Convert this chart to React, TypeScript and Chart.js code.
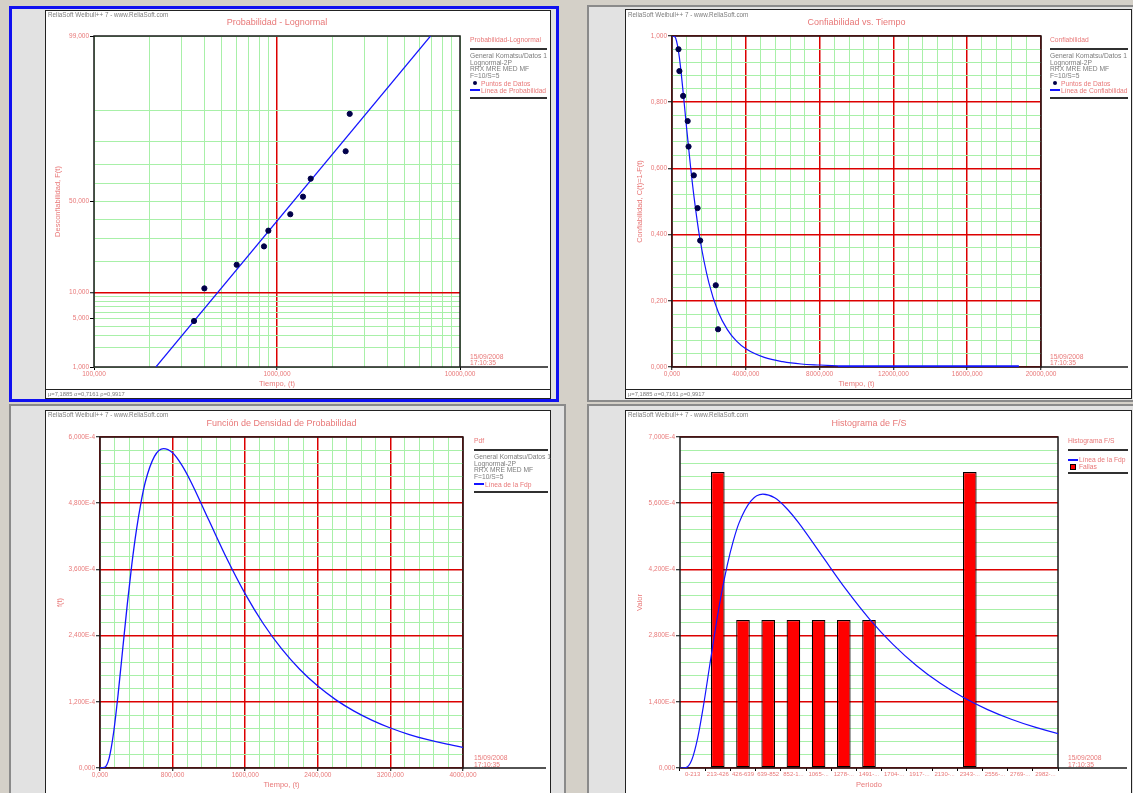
import React, { useEffect, useRef } from "react";
import { Chart, registerables, Scale } from "chart.js";

// ---------------- data ----------------
const failureTimes = [352, 401, 602, 849, 897, 1182, 1387, 1528, 2372, 2496];
const unreliabilityPoints = [0.0465, 0.111, 0.187, 0.264, 0.341, 0.429, 0.527, 0.626, 0.76, 0.891];
const reliabilityPoints = [0.96, 0.894, 0.819, 0.743, 0.666, 0.579, 0.48, 0.382, 0.247, 0.114];

const probLineTimes = [218, 6900];
const probLineValues = [0.01, 0.99];

const relCurveTimes = [0, 100, 200, 300, 400, 500, 600, 700, 800, 1000, 1200, 1500, 2000, 2500, 3000, 3500, 4000, 5000, 6000, 7000, 8000, 9000];
const relCurveValues = [1, 0.9996, 0.993, 0.971, 0.935, 0.887, 0.832, 0.775, 0.717, 0.608, 0.511, 0.392, 0.254, 0.167, 0.113, 0.078, 0.055, 0.029, 0.016, 0.009, 0.006, 0.0035];
const relTailTimes = [9000, 18800];
const relTailValues = [0.0012, 0.0012];

const pdfTimes = [0, 50, 100, 150, 200, 250, 300, 350, 400, 450, 500, 600, 700, 800, 900, 1000, 1200, 1400, 1600, 1800, 2000, 2200, 2400, 2600, 2800, 3000, 3200, 3400, 3600, 3800, 4000];
const pdfValues = [0, 0.01e-4, 0.175e-4, 0.643e-4, 1.343e-4, 2.152e-4, 2.956e-4, 3.682e-4, 4.298e-4, 4.798e-4, 5.189e-4, 5.649e-4, 5.79e-4, 5.714e-4, 5.494e-4, 5.194e-4, 4.49e-4, 3.788e-4, 3.156e-4, 2.615e-4, 2.163e-4, 1.79e-4, 1.485e-4, 1.235e-4, 1.031e-4, 0.863e-4, 0.725e-4, 0.611e-4, 0.517e-4, 0.44e-4, 0.375e-4];

const histBins = ["0-213", "213-426", "426-639", "639-852", "852-1...", "1065-...", "1278-...", "1491-...", "1704-...", "1917-...", "2130-...", "2343-...", "2556-...", "2769-...", "2982-..."];
const histValues = [0, 6.26e-4, 3.13e-4, 3.13e-4, 3.13e-4, 3.13e-4, 3.13e-4, 3.13e-4, 0, 0, 0, 6.26e-4, 0, 0, 0];
const histRangeMax = 3195;

// axis tick positions
const probGridValues = [0.01, 0.02, 0.03, 0.04, 0.05, 0.06, 0.07, 0.08, 0.09, 0.1, 0.2, 0.3, 0.4, 0.5, 0.6, 0.7, 0.8, 0.9, 0.99];
const probLabelValues = [0.01, 0.05, 0.1, 0.5, 0.99];
const logGridValues = [100, 200, 300, 400, 500, 600, 700, 800, 900, 1000, 2000, 3000, 4000, 5000, 6000, 7000, 8000, 9000, 10000];
const logLabelValues = [100, 1000, 10000];

// ---------------- style ----------------
const SALMON = "#e87878";
const GRAYTXT = "#7c7c7c";
const GREEN = "#a8f0a8";
const RED = "#dc0000";
const BLUE = "#1414ff";
const NAVY = "#00004a";
const BG = "#d4d0c8";
const PANEL = "#e2e2e2";
const FONT = "'Liberation Sans', Arial, sans-serif";
const SMALL = 6.7;

Chart.register(...registerables);
Chart.defaults.font.family = FONT;

// ---------------- probability (normal quantile) scale ----------------
function normInv(p: number): number {
  const a = [-39.69683028665376, 220.9460984245205, -275.9285104469687, 138.357751867269, -30.66479806614716, 2.506628277459239];
  const b = [-54.47609879822406, 161.5858368580409, -155.6989798598866, 66.80131188771972, -13.28068155288572];
  const c = [-0.007784894002430293, -0.3223964580411365, -2.400758277161838, -2.549732539343734, 4.374664141464968, 2.938163982698783];
  const d = [0.007784695709041462, 0.3224671290700398, 2.445134137142996, 3.754408661907416];
  const pl = 0.02425;
  if (p <= 0) return -8;
  if (p >= 1) return 8;
  if (p < pl) {
    const q = Math.sqrt(-2 * Math.log(p));
    return (((((c[0] * q + c[1]) * q + c[2]) * q + c[3]) * q + c[4]) * q + c[5]) / ((((d[0] * q + d[1]) * q + d[2]) * q + d[3]) * q + 1);
  }
  if (p <= 1 - pl) {
    const q = p - 0.5;
    const r = q * q;
    return ((((((a[0] * r + a[1]) * r + a[2]) * r + a[3]) * r + a[4]) * r + a[5]) * q) / (((((b[0] * r + b[1]) * r + b[2]) * r + b[3]) * r + b[4]) * r + 1);
  }
  const q = Math.sqrt(-2 * Math.log(1 - p));
  return -(((((c[0] * q + c[1]) * q + c[2]) * q + c[3]) * q + c[4]) * q + c[5]) / ((((d[0] * q + d[1]) * q + d[2]) * q + d[3]) * q + 1);
}
function normCdf(z: number): number {
  const t = 1 / (1 + 0.2316419 * Math.abs(z));
  const dd = 0.3989423 * Math.exp(-z * z / 2);
  const p = dd * t * (0.3193815 + t * (-0.3565638 + t * (1.781478 + t * (-1.821256 + t * 1.330274))));
  return z > 0 ? 1 - p : p;
}

class ProbitScale extends (Scale as any) {
  static id = "probit";
  static defaults = {};
  determineDataLimits() {
    this.min = this.options.min ?? 0.01;
    this.max = this.options.max ?? 0.99;
  }
  buildTicks() {
    return [];
  }
  getLabelForValue(v: number) {
    return String(v);
  }
  configure() {
    super.configure();
    this._zmin = normInv(this.min);
    this._zmax = normInv(this.max);
  }
  getPixelForValue(v: number) {
    return this.getPixelForDecimal((normInv(v) - this._zmin) / (this._zmax - this._zmin));
  }
  getValueForPixel(px: number) {
    return normCdf(this._zmin + this.getDecimalForPixel(px) * (this._zmax - this._zmin));
  }
}
Chart.register(ProbitScale as any);

// ---------------- helpers ----------------
const steps = (max: number, step: number) => Array.from({ length: Math.round(max / step) + 1 }, (_, i) => i * step);
const isMult = (v: number, m: number) => Math.abs(v / m - Math.round(v / m)) < 1e-6;
const fmt3 = (v: number) => v.toFixed(3).replace(".", ",");
const fmtE4 = (v: number) => (Math.abs(v) < 1e-12 ? "0,000" : fmt3(v * 1e4) + "E-4");

type Geo = { cx: number; cy: number; cw: number; ch: number; px0: number; py0: number; px1: number; py1: number };
const X_FIT = 31;
const GEO: Record<string, Geo> = {
  tl: { cx: 46, cy: 11, cw: 504, ch: 387, px0: 94, py0: 36, px1: 460, py1: 367 },
  tr: { cx: 626, cy: 10, cw: 505, ch: 388, px0: 672, py0: 36, px1: 1041, py1: 367 },
  bl: { cx: 46, cy: 411, cw: 504, ch: 389, px0: 100, py0: 437, px1: 463, py1: 768 },
  br: { cx: 626, cy: 411, cw: 505, ch: 389, px0: 680, py0: 437, px1: 1058, py1: 768 },
};

function baseOptions(g: Geo) {
  return {
    animation: false,
    responsive: false,
    events: [],
    layout: { padding: { top: g.py0 - g.cy, right: g.cx + g.cw - g.px1, bottom: g.cy + g.ch - g.py1 - X_FIT, left: 0 } },
    plugins: { legend: { display: false }, tooltip: { enabled: false }, title: { display: false } },
  };
}

function framePlugin(ext: number) {
  return {
    id: "frame",
    beforeDatasetsDraw(chart: any) {
      const { ctx, chartArea: a } = chart;
      ctx.save();
      ctx.strokeStyle = "#1a1a1a";
      ctx.lineWidth = 1.5;
      ctx.strokeRect(a.left, a.top, a.right - a.left, a.bottom - a.top);
      ctx.beginPath();
      ctx.moveTo(a.right, a.bottom);
      ctx.lineTo(a.right + ext, a.bottom);
      ctx.stroke();
      ctx.restore();
    },
  };
}

function gridAxis(o: {
  vals: number[];
  label: (v: number) => string;
  major: (v: number) => boolean;
  horizontal: boolean;
  fit: number;
  title: string;
  titlePad: number;
  extra?: any;
}) {
  return {
    ...(o.extra || {}),
    afterFit: (s: any) => {
      if (o.horizontal) s.height = o.fit;
      else s.width = o.fit;
    },
    afterBuildTicks: (s: any) => {
      s.ticks = o.vals.map((v) => ({ value: v }));
    },
    ticks: {
      autoSkip: false,
      maxRotation: 0,
      minRotation: 0,
      padding: o.horizontal ? 0 : 1,
      color: SALMON,
      font: { size: 6.5, family: FONT },
      callback: (v: any) => o.label(Number(v)),
    },
    grid: {
      drawOnChartArea: true,
      drawTicks: true,
      tickLength: o.horizontal ? 3 : 4,
      tickWidth: 1,
      color: (c: any) => (c.tick && o.major(c.tick.value) ? RED : GREEN),
      lineWidth: (c: any) => (c.tick && o.major(c.tick.value) ? 1.5 : 1),
      tickColor: (c: any) => (c.tick && o.label(c.tick.value) !== "" ? "#000" : "rgba(0,0,0,0)"),
    },
    border: { display: false },
    title: {
      display: true,
      text: o.title,
      color: SALMON,
      font: { size: 7.5, family: FONT },
      padding: o.horizontal ? { top: 0, bottom: o.titlePad } : { top: o.titlePad, bottom: 0 },
    },
  };
}

const pts = (xs: number[], ys: number[]) => xs.map((x, i) => ({ x, y: ys[i] }));

// ---------------- chart configs ----------------
function probConfig() {
  const g = GEO.tl;
  return {
    type: "scatter",
    data: {
      datasets: [
        { label: "Puntos de Datos", data: pts(failureTimes, unreliabilityPoints), showLine: false, pointRadius: 2.6, pointBackgroundColor: NAVY, pointBorderColor: NAVY, order: 0 },
        { label: "Línea de Probabilidad", data: pts(probLineTimes, probLineValues), showLine: true, borderColor: BLUE, borderWidth: 1.2, pointRadius: 0, order: 1 },
      ],
    },
    options: {
      ...baseOptions(g),
      scales: {
        x: gridAxis({
          vals: logGridValues,
          label: (v) => (logLabelValues.includes(v) ? fmt3(v) : ""),
          major: (v) => v === 1000,
          horizontal: true,
          fit: X_FIT,
          title: "Tiempo, (t)",
          titlePad: 9.5,
          extra: { type: "logarithmic", min: 100, max: 10000 },
        }),
        y: gridAxis({
          vals: probGridValues,
          label: (v) => (probLabelValues.some((p) => Math.abs(p - v) < 1e-9) ? fmt3(v * 100) : ""),
          major: (v) => Math.abs(v - 0.1) < 1e-9,
          horizontal: false,
          fit: g.px0 - g.cx,
          title: "Desconfiabilidad, F(t)",
          titlePad: 7.5,
          extra: { type: "probit", min: 0.01, max: 0.99 },
        }),
      },
    },
    plugins: [framePlugin(88)],
  };
}

function relConfig() {
  const g = GEO.tr;
  return {
    type: "scatter",
    data: {
      datasets: [
        { label: "Puntos de Datos", data: pts(failureTimes, reliabilityPoints), showLine: false, pointRadius: 2.6, pointBackgroundColor: NAVY, pointBorderColor: NAVY, order: 0 },
        { label: "Línea de Confiabilidad", data: pts(relCurveTimes, relCurveValues), showLine: true, borderColor: BLUE, borderWidth: 1.2, pointRadius: 0, cubicInterpolationMode: "monotone", order: 1 },
        { label: "tail", data: pts(relTailTimes, relTailValues), showLine: true, borderColor: BLUE, borderWidth: 2.6, pointRadius: 0, order: 2 },
      ],
    },
    options: {
      ...baseOptions(g),
      scales: {
        x: gridAxis({
          vals: steps(20000, 800),
          label: (v) => (isMult(v, 4000) ? fmt3(v) : ""),
          major: (v) => isMult(v, 4000),
          horizontal: true,
          fit: X_FIT,
          title: "Tiempo, (t)",
          titlePad: 9.5,
          extra: { type: "linear", min: 0, max: 20000 },
        }),
        y: gridAxis({
          vals: steps(1, 0.04),
          label: (v) => (isMult(v, 0.2) ? fmt3(v) : ""),
          major: (v) => isMult(v, 0.2),
          horizontal: false,
          fit: g.px0 - g.cx,
          title: "Confiabilidad, C(t)=1-F(t)",
          titlePad: 9.5,
          extra: { type: "linear", min: 0, max: 1 },
        }),
      },
    },
    plugins: [framePlugin(87)],
  };
}

function pdfConfig() {
  const g = GEO.bl;
  return {
    type: "scatter",
    data: {
      datasets: [
        { label: "Línea de la Fdp", data: pts(pdfTimes, pdfValues), showLine: true, borderColor: BLUE, borderWidth: 1.3, pointRadius: 0, cubicInterpolationMode: "monotone" },
      ],
    },
    options: {
      ...baseOptions(g),
      scales: {
        x: gridAxis({
          vals: steps(4000, 160),
          label: (v) => (isMult(v, 800) ? fmt3(v) : ""),
          major: (v) => isMult(v, 800),
          horizontal: true,
          fit: X_FIT,
          title: "Tiempo, (t)",
          titlePad: 9.5,
          extra: { type: "linear", min: 0, max: 4000 },
        }),
        y: gridAxis({
          vals: steps(6e-4, 0.24e-4),
          label: (v) => (isMult(v, 1.2e-4) ? fmtE4(v) : ""),
          major: (v) => isMult(v, 1.2e-4),
          horizontal: false,
          fit: g.px0 - g.cx,
          title: "f(t)",
          titlePad: 9.5,
          extra: { type: "linear", min: 0, max: 6e-4 },
        }),
      },
    },
    plugins: [framePlugin(83)],
  };
}

function histConfig() {
  const g = GEO.br;
  const yAxis = gridAxis({
    vals: steps(7e-4, 0.28e-4),
    label: (v) => (isMult(v, 1.4e-4) ? fmtE4(v) : ""),
    major: (v) => isMult(v, 1.4e-4),
    horizontal: false,
    fit: g.px0 - g.cx,
    title: "Valor",
    titlePad: 9.5,
    extra: { type: "linear", min: 0, max: 7e-4 },
  });
  return {
    type: "bar",
    data: {
      labels: histBins,
      datasets: [
        { type: "line", label: "Línea de la Fdp", xAxisID: "x2", data: pts(pdfTimes, pdfValues), borderColor: BLUE, borderWidth: 1.2, pointRadius: 0, cubicInterpolationMode: "monotone", order: 0 },
        { type: "bar", label: "Fallas", xAxisID: "x", data: histValues, backgroundColor: "#ff0000", borderColor: "#000", borderWidth: 1.2, borderSkipped: false, grouped: false, barPercentage: 0.54, categoryPercentage: 1, order: 1 },
      ],
    },
    options: {
      ...baseOptions(g),
      scales: {
        x: {
          type: "category",
          offset: true,
          afterFit: (s: any) => {
            s.height = X_FIT;
          },
          ticks: { autoSkip: false, maxRotation: 0, minRotation: 0, padding: 0, color: SALMON, font: { size: 6, family: FONT } },
          grid: { drawOnChartArea: false, drawTicks: true, tickLength: 3, offset: true, tickColor: "#000" },
          border: { display: false },
          title: { display: true, text: "Periodo", color: SALMON, font: { size: 7.5, family: FONT }, padding: { top: 0, bottom: 9.5 } },
        },
        x2: { type: "linear", axis: "x", position: "bottom", display: false, offset: false, bounds: "data", min: 0, max: histRangeMax, grid: { offset: false } },
        y: yAxis,
      },
    },
    plugins: [framePlugin(69)],
  };
}

// ---------------- components ----------------
function ChartCanvas({ g, make }: { g: Geo; make: () => any }) {
  const ref = useRef<HTMLCanvasElement>(null);
  useEffect(() => {
    const chart = new Chart(ref.current as HTMLCanvasElement, make());
    return () => chart.destroy();
  }, []);
  return <canvas ref={ref} width={g.cw} height={g.ch} style={{ position: "absolute", left: g.cx, top: g.cy, width: g.cw, height: g.ch }} />;
}

function Txt({ x, y, text, color = GRAYTXT, size = SMALL, center = false }: { x: number; y: number; text: string; color?: string; size?: number; center?: boolean }) {
  const lh = Math.round(size * 1.3);
  return (
    <div
      style={{
        position: "absolute",
        left: x,
        top: y - lh / 2,
        height: lh,
        lineHeight: lh + "px",
        fontSize: size,
        color,
        whiteSpace: "nowrap",
        fontFamily: FONT,
        transform: center ? "translateX(-50%)" : undefined,
      }}
    >
      {text}
    </div>
  );
}

function Rule({ x, y, w, h = 2, c = "#303030" }: { x: number; y: number; w: number; h?: number; c?: string }) {
  return <div style={{ position: "absolute", left: x, top: y - h / 2, width: w, height: h, background: c }} />;
}

type Entry = { kind: "dot" | "line" | "square"; text: string };
function Side({ x, w, y0, title, info, entries, entryStart, entryStep, bottomRule, dateY }: { x: number; w: number; y0: number; title: string; info: string[]; entries: Entry[]; entryStart: number; entryStep: number; bottomRule: number; dateY: number }) {
  return (
    <>
      <Txt x={x} y={y0} text={title} color={SALMON} />
      <Rule x={x} y={y0 + 10} w={w} />
      {info.map((s, i) => (
        <Txt key={s} x={x} y={y0 + 16.5 + i * 6.6} text={s} />
      ))}
      {entries.map((e, i) => {
        const y = entryStart + i * entryStep;
        return (
          <React.Fragment key={e.text}>
            {e.kind === "dot" && <div style={{ position: "absolute", left: x + 2.5, top: y - 2, width: 4, height: 4, borderRadius: 2, background: NAVY }} />}
            {e.kind === "line" && <div style={{ position: "absolute", left: x, top: y - 1, width: 10, height: 2, background: BLUE }} />}
            {e.kind === "square" && <div style={{ position: "absolute", left: x + 2, top: y - 2.5, width: 4, height: 4, background: "#ff0000", border: "1px solid #000" }} />}
            <Txt x={x + 11} y={y} text={e.text} color={SALMON} />
          </React.Fragment>
        );
      })}
      <Rule x={x} y={bottomRule} w={w} />
      <Txt x={x} y={dateY} text="15/09/2008" color={SALMON} />
      <Txt x={x} y={dateY + 6.5} text="17:10:35" color={SALMON} />
    </>
  );
}

function WhiteBox({ g }: { g: Geo }) {
  return <div style={{ position: "absolute", left: g.cx - 1, top: g.cy - 1, width: g.cw + 2, height: g.ch + 2, background: "#fff", border: "1px solid #222", boxSizing: "border-box" }} />;
}

const infoLines = ["General Komatsu/Datos 1", "Lognormal-2P", "RRX MRE MED MF", "F=10/S=5"];
const HEADER = "ReliaSoft Weibull++ 7 - www.ReliaSoft.com";
const STATUS = "μ=7,1885 σ=0,7161 ρ=0,9917";

export default function App() {
  const { tl, tr, bl, br } = GEO;
  return (
    <div style={{ position: "absolute", left: 0, top: 0, width: 1133, height: 793, overflow: "hidden", background: BG, fontFamily: FONT }}>
      {/* panel frames */}
      <div style={{ position: "absolute", left: 9, top: 6, width: 550, height: 396, border: "3px solid #1010f0", boxSizing: "border-box", background: PANEL }} />
      <div style={{ position: "absolute", left: 587, top: 5, width: 560, height: 397, border: "2px solid #8a8a8a", boxSizing: "border-box", background: PANEL }} />
      <div style={{ position: "absolute", left: 9, top: 404, width: 557, height: 400, border: "2px solid #8a8a8a", boxSizing: "border-box", background: PANEL }} />
      <div style={{ position: "absolute", left: 587, top: 404, width: 560, height: 400, border: "2px solid #8a8a8a", boxSizing: "border-box", background: PANEL }} />

      <WhiteBox g={tl} />
      <WhiteBox g={tr} />
      <WhiteBox g={bl} />
      <WhiteBox g={br} />

      <ChartCanvas g={tl} make={probConfig} />
      <ChartCanvas g={tr} make={relConfig} />
      <ChartCanvas g={bl} make={pdfConfig} />
      <ChartCanvas g={br} make={histConfig} />

      {/* top-left overlays */}
      <Txt x={48} y={14.5} text={HEADER} size={6.3} />
      <Txt x={(tl.px0 + tl.px1) / 2} y={22} text="Probabilidad - Lognormal" color={SALMON} size={9} center />
      <Side x={470} w={77} y0={39} title="Probabilidad-Lognormal" info={infoLines} entries={[{ kind: "dot", text: "Puntos de Datos" }, { kind: "line", text: "Línea de Probabilidad" }]} entryStart={83} entryStep={7.3} bottomRule={97.5} dateY={356} />
      <Rule x={46} y={389.5} w={504} h={1} c="#222" />
      <Txt x={48} y={394} text={STATUS} size={5.8} />

      {/* top-right overlays */}
      <Txt x={628} y={14.5} text={HEADER} size={6.3} />
      <Txt x={(tr.px0 + tr.px1) / 2} y={22} text="Confiabilidad vs. Tiempo" color={SALMON} size={9} center />
      <Side x={1050} w={78} y0={39} title="Confiabilidad" info={infoLines} entries={[{ kind: "dot", text: "Puntos de Datos" }, { kind: "line", text: "Línea de Confiabilidad" }]} entryStart={83} entryStep={7.3} bottomRule={97.5} dateY={356} />
      <Rule x={626} y={389.5} w={505} h={1} c="#222" />
      <Txt x={628} y={394} text={STATUS} size={5.8} />

      {/* bottom-left overlays */}
      <Txt x={48} y={414.5} text={HEADER} size={6.3} />
      <Txt x={(bl.px0 + bl.px1) / 2} y={423} text="Función de Densidad de Probabilidad" color={SALMON} size={9} center />
      <Side x={474} w={74} y0={440} title="Pdf" info={infoLines} entries={[{ kind: "line", text: "Línea de la Fdp" }]} entryStart={484} entryStep={7.3} bottomRule={492} dateY={757.5} />

      {/* bottom-right overlays */}
      <Txt x={628} y={414.5} text={HEADER} size={6.3} />
      <Txt x={(br.px0 + br.px1) / 2} y={423} text="Histograma de F/S" color={SALMON} size={9} center />
      <Side x={1068} w={60} y0={440} title="Histograma F/S" info={[]} entries={[{ kind: "line", text: "Línea de la Fdp" }, { kind: "square", text: "Fallas" }]} entryStart={459.5} entryStep={6.5} bottomRule={472.5} dateY={757.5} />
    </div>
  );
}
